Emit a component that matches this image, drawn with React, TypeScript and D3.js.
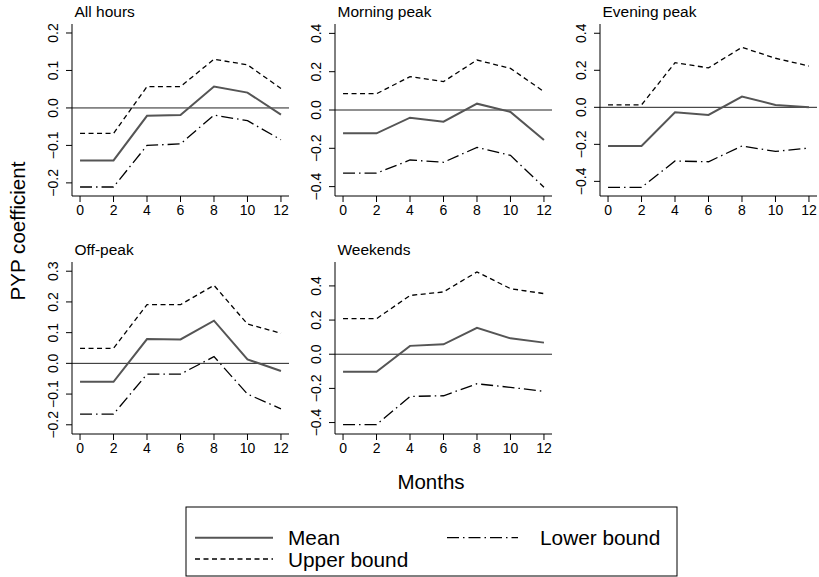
import React from 'react';
import * as d3 from 'd3';

// ==================== DATA ====================
const months = [0, 2, 4, 6, 8, 10, 12];
const panelTitles = ['All hours', 'Morning peak', 'Evening peak', 'Off-peak', 'Weekends'];

const meanValues = [
  [-0.140, -0.140, -0.021, -0.019, 0.057, 0.041, -0.018],
  [-0.122, -0.122, -0.040, -0.061, 0.033, -0.010, -0.157],
  [-0.209, -0.209, -0.027, -0.041, 0.058, 0.013, 0.000],
  [-0.060, -0.060, 0.079, 0.078, 0.139, 0.013, -0.025],
  [-0.103, -0.103, 0.049, 0.058, 0.155, 0.093, 0.068],
];
const upperValues = [
  [-0.068, -0.068, 0.057, 0.057, 0.130, 0.115, 0.052],
  [0.085, 0.085, 0.174, 0.148, 0.261, 0.217, 0.096],
  [0.013, 0.013, 0.241, 0.213, 0.324, 0.265, 0.223],
  [0.049, 0.049, 0.191, 0.191, 0.254, 0.128, 0.098],
  [0.208, 0.208, 0.344, 0.365, 0.482, 0.384, 0.355],
];
const lowerValues = [
  [-0.211, -0.211, -0.100, -0.096, -0.019, -0.034, -0.085],
  [-0.330, -0.330, -0.261, -0.273, -0.195, -0.237, -0.403],
  [-0.432, -0.432, -0.290, -0.294, -0.209, -0.238, -0.220],
  [-0.165, -0.165, -0.035, -0.035, 0.022, -0.100, -0.148],
  [-0.412, -0.412, -0.247, -0.243, -0.173, -0.194, -0.217],
];

// axis limits and tick values per panel
const yLimits = [
  [-0.235, 0.224],
  [-0.449, 0.449],
  [-0.479, 0.450],
  [-0.230, 0.330],
  [-0.467, 0.540],
];
const yTicks = [
  [-0.2, -0.1, 0, 0.1, 0.2],
  [-0.4, -0.2, 0, 0.2, 0.4],
  [-0.4, -0.2, 0, 0.2, 0.4],
  [-0.2, -0.1, 0, 0.1, 0.2, 0.3],
  [-0.4, -0.2, 0, 0.2, 0.4],
];
const xTicks = [0, 2, 4, 6, 8, 10, 12];

const legendItems = [
  { label: 'Mean', kind: 'mean' },
  { label: 'Lower bound', kind: 'lower' },
  { label: 'Upper bound', kind: 'upper' },
];

// ==================== STYLE ====================
const FONT = "'Liberation Sans', Arial, Helvetica, sans-serif";
const W = 819;
const H = 577;
const colX = [72, 335, 600];
const rowY = [24, 262];
const PW = 217;
const PH = 172;

const LINE_STYLE: Record<string, { stroke: string; width: number; dash?: string }> = {
  mean: { stroke: '#555555', width: 2 },
  upper: { stroke: '#000000', width: 1.3, dash: '5,3.5' },
  lower: { stroke: '#000000', width: 1.3, dash: '12,4,1.5,4' },
};

const fmt = (v: number) => {
  const s = d3.format('.1f')(Math.abs(v));
  return v < 0 ? '\u2212' + s : s;
};

const Panel = ({ i }: { i: number }) => {
  const x0 = colX[i % 3];
  const y0 = rowY[Math.floor(i / 3)];
  const x = d3.scaleLinear().domain([-0.48, 12.48]).range([x0, x0 + PW]);
  const y = d3.scaleLinear().domain(yLimits[i]).range([y0 + PH, y0]);
  const line = d3.line<number>().x((_, k) => x(months[k])).y(v => y(v));
  const series = [
    { kind: 'upper', values: upperValues[i] },
    { kind: 'lower', values: lowerValues[i] },
    { kind: 'mean', values: meanValues[i] },
  ];
  return (
    <g>
      <text x={x0 + 2.5} y={y0 - 7} fontSize={15.5} fontFamily={FONT}>{panelTitles[i]}</text>
      {/* zero reference */}
      <line x1={x0} x2={x0 + PW} y1={y(0)} y2={y(0)} stroke="#222" strokeWidth={1} />
      {series.map(s => {
        const st = LINE_STYLE[s.kind];
        return (
          <path key={s.kind} d={line(s.values) || ''} fill="none" stroke={st.stroke}
            strokeWidth={st.width} strokeDasharray={st.dash} />
        );
      })}
      {/* L-shaped axes */}
      <path d={`M${x0},${y0} V${y0 + PH} H${x0 + PW}`} fill="none" stroke="#000" strokeWidth={1} />
      {yTicks[i].map(t => (
        <g key={'y' + t}>
          <line x1={x0 - 6} x2={x0} y1={y(t)} y2={y(t)} stroke="#000" />
          <text transform={`translate(${x0 - 14},${y(t)}) rotate(-90)`} textAnchor="middle"
            fontSize={14} fontFamily={FONT}>{fmt(t)}</text>
        </g>
      ))}
      {xTicks.map(t => (
        <g key={'x' + t}>
          <line x1={x(t)} x2={x(t)} y1={y0 + PH} y2={y0 + PH + 6} stroke="#000" />
          <text x={x(t)} y={y0 + PH + 19} textAnchor="middle" fontSize={14} fontFamily={FONT}>{t}</text>
        </g>
      ))}
    </g>
  );
};

const Legend = () => {
  const pos = [
    { x1: 195, x2: 273, tx: 288, cy: 537.7 },
    { x1: 447, x2: 518, tx: 540, cy: 537.7 },
    { x1: 195, x2: 273, tx: 288, cy: 559 },
  ];
  return (
    <g>
      <rect x={186} y={507} width={491} height={69} fill="none" stroke="#000" strokeWidth={1} />
      {legendItems.map((it, k) => {
        const st = LINE_STYLE[it.kind];
        const p = pos[k];
        return (
          <g key={it.label}>
            <line x1={p.x1} x2={p.x2} y1={p.cy} y2={p.cy} stroke={st.stroke}
              strokeWidth={st.width} strokeDasharray={st.dash} />
            <text x={p.tx} y={p.cy + 7.5} fontSize={20.8} fontFamily={FONT}>{it.label}</text>
          </g>
        );
      })}
    </g>
  );
};

export default function App() {
  return (
    <svg width={W} height={H} style={{ position: 'absolute', left: 0, top: 0, background: '#fff' }}>
      <rect width={W} height={H} fill="#fff" />
      {panelTitles.map((_, i) => <Panel key={i} i={i} />)}
      <text transform="translate(25,231) rotate(-90)" textAnchor="middle" fontSize={20.6}
        fontFamily={FONT}>PYP coefficient</text>
      <text x={431} y={489} textAnchor="middle" fontSize={20.5} fontFamily={FONT}>Months</text>
      <Legend />
    </svg>
  );
}
